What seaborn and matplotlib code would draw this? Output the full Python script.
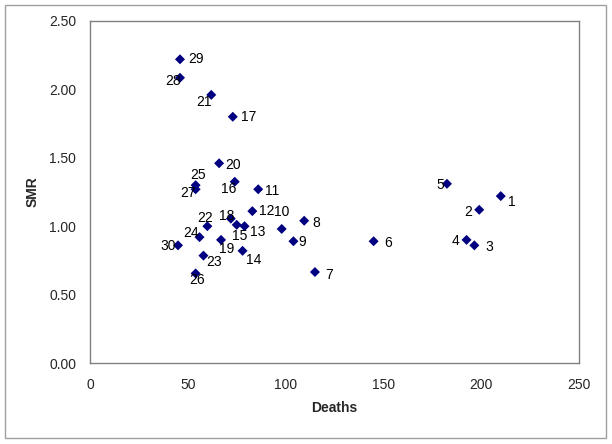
import matplotlib
matplotlib.use("Agg")
import matplotlib.pyplot as plt
import seaborn as sns
import pandas as pd
from matplotlib.patches import Rectangle

# area numbers, observed deaths and standardised mortality ratio
areas = list(range(1, 31))
deaths = [210, 199, 196.5, 192.5, 182.5, 145, 115, 109.5, 104, 98,
          86, 83, 79, 78, 75, 74, 73, 72, 67, 66,
          62, 60, 58, 56, 54, 54, 54, 46, 46, 45]
smr = [1.22, 1.12, 0.86, 0.90, 1.31, 0.89, 0.665, 1.04, 0.89, 0.98,
       1.27, 1.11, 1.00, 0.82, 1.01, 1.325, 1.80, 1.055, 0.90, 1.46,
       1.96, 1.00, 0.785, 0.92, 1.30, 0.655, 1.27, 2.085, 2.22, 0.86]

# where each number sits relative to its marker (pixels, right / down)
label_dx = [11, -11, 15, -11, -7, 15, 14, 12, 9, 0,
            14, 14, 13, 11, 3, -6, 16, -4, 6, 14,
            -7, -2, 11, -8, 2, 1, -8, -7, 16, -10]
label_dy = [6, 2, 2, 1, 1, 2, 3, 2, 1, -17,
            2, 0, 6, 9, 11, 7, 0, -3, 9, 2,
            7, -8, 6, -4, -10, 7, 4, 3, 0, 1]

df = pd.DataFrame({"Deaths": deaths, "SMR": smr, "area": areas})

sns.set_style("white")
plt.rcParams["font.family"] = ["Liberation Sans", "DejaVu Sans"]

fig = plt.figure(figsize=(6.12, 4.44), dpi=100)
ax = fig.add_axes([90 / 612, 1 - 363 / 444, 489 / 612, 342 / 444])

sns.scatterplot(data=df, x="Deaths", y="SMR", marker="D", s=26,
                color="#000080", edgecolor="none", ax=ax, zorder=3)

for a, x, y, dx, dy in zip(areas, deaths, smr, label_dx, label_dy):
    ax.annotate(str(a), (x, y), xytext=(dx, -dy), textcoords="offset pixels",
                ha="center", va="center", fontsize=10, color="black")

ax.set_xlim(0, 250)
ax.set_ylim(0, 2.5)
ax.set_xticks(range(0, 251, 50))
ax.set_yticks([0, 0.5, 1.0, 1.5, 2.0, 2.5])
ax.set_yticklabels([f"{v:.2f}" for v in [0, 0.5, 1.0, 1.5, 2.0, 2.5]])
ax.tick_params(axis="both", direction="out", length=4, width=0.8,
               color="#808080", labelsize=10, pad=6)
ax.tick_params(axis="x", pad=7)

for sp in ax.spines.values():
    sp.set_color("#808080")
    sp.set_linewidth(1)

ax.set_xlabel("Deaths", fontsize=10, fontweight="bold", labelpad=6)
ax.set_ylabel("SMR", fontsize=10, fontweight="bold", labelpad=7)

# outer chart border
fig.patches.append(Rectangle((5 / 612, 1 - 438 / 444), 601 / 612, 433 / 444,
                             transform=fig.transFigure, fill=False,
                             edgecolor="#a0a0a0", linewidth=1))

fig.savefig("out.png", dpi=100)
